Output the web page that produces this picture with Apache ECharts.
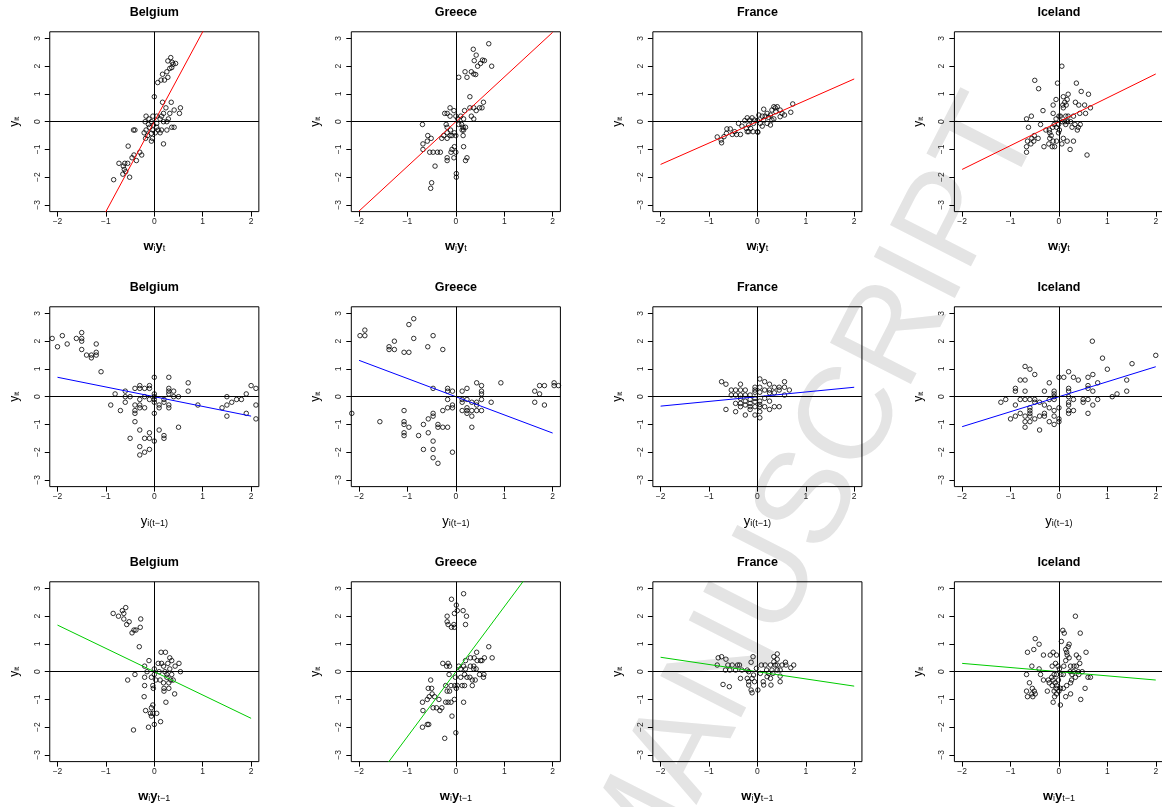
<!DOCTYPE html>
<html>
<head>
<meta charset="utf-8">
<script src="https://cdn.jsdelivr.net/npm/echarts@6/dist/echarts.min.js"></script>
<style>
  html, body { margin: 0; padding: 0; background: #fff; }
  #chart { width: 1162px; height: 807px; }
</style>
</head>
<body>
<div id="chart"></div>
<script>
// ---- Data -------------------------------------------------------------
const countries = ['Belgium', 'Greece', 'France', 'Iceland'];
const tickValuesX = [-2, -1, 0, 1, 2];
const tickValuesY = [-3, -2, -1, 0, 1, 2, 3];

// Row 1: spatial lag of current growth (w_i y_t) against y_it
const beWy = [[0.34,2.31],[0.28,2.19],[0.37,2.14],[0.44,2.1],[0.39,2.07],[0.32,1.92],[0.36,1.95],[0.26,1.8],[0.17,1.71],[0.28,1.6],[0.14,1.5],[0.21,1.5],[0.07,1.41],[0.0,0.9],
  [0.17,0.7],[0.35,0.7],[0.24,0.5],[0.54,0.5],[0.41,0.42],[0.52,0.3],[0.32,0.3],[0.19,0.3],[0.15,0.2],[0.05,0.2],[-0.03,0.2],[-0.17,0.2],[0.29,0.1],[0.12,0.1],[-0.11,0.1],[-0.19,0],[-0.06,0],[0.19,0],[0.26,0],[0.05,-0.06],[-0.12,-0.1],[-0.02,-0.12],[0.36,-0.2],[0.41,-0.2],[-0.1,-0.2],[-0.17,-0.3],[-0.03,-0.3],[0.08,-0.3],[0.15,-0.3],[0.26,-0.3],[-0.43,-0.3],[-0.4,-0.3],[-0.21,-0.4],[0.02,-0.4],[0.12,-0.4],[-0.14,-0.5],[-0.04,-0.6],[-0.18,-0.6],[-0.06,-0.7],[0.19,-0.8],[0.05,-0.2],[-0.06,-0.42],
  [-0.54,-0.88],[-0.42,-1.2],[-0.26,-1.2],[-0.3,-1.1],[-0.46,-1.3],[-0.37,-1.4],[-0.73,-1.5],[-0.61,-1.5],[-0.55,-1.5],[-0.64,-1.6],[-0.62,-1.72],[-0.65,-1.89],[-0.51,-2.0],[-0.84,-2.09],[-0.59,-1.8]];
const grWy = [[0.68,2.81],[0.36,2.61],[0.42,2.4],[0.38,2.2],[0.55,2.22],[0.59,2.2],[0.51,2.1],[0.45,2.0],[0.74,2.0],[0.19,1.8],[0.32,1.8],[0.37,1.72],[0.41,1.7],[0.23,1.6],[0.06,1.6],[0.29,0.9],[0.57,0.7],[0.37,0.5],[0.49,0.5],[0.54,0.5],[0.29,0.5],[0.42,0.4],[0.18,0.4],[0.32,0.2],[0.37,0.1],
  [-0.12,0.5],[-0.04,0.4],[-0.23,0.3],[-0.18,0.3],[-0.12,0.2],[0,0.2],[0.04,0.1],[0.1,0.2],[0.16,0.1],[-0.69,-0.1],[-0.2,-0.1],[-0.18,-0.2],[0.12,-0.1],[0.15,-0.2],[0.2,-0.2],[0.16,-0.3],[0.13,-0.3],[0.06,-0.1],[-0.11,-0.3],[-0.18,-0.4],[-0.03,-0.4],
  [-0.58,-0.5],[-0.25,-0.5],[-0.12,-0.5],[-0.08,-0.5],[0,-0.5],[0.15,-0.5],[-0.18,-0.6],[-0.51,-0.6],[-0.59,-0.7],[-0.29,-0.6],[-0.68,-0.8],[0.16,-0.9],[-0.03,-0.9],[-0.68,-1.0],[-0.08,-1.0],[-0.54,-1.1],[-0.47,-1.1],[-0.38,-1.1],[-0.32,-1.1],[-0.1,-1.1],[0,-1.1],[-0.18,-1.3],[-0.04,-1.3],[0.23,-1.3],[-0.18,-1.4],[0.2,-1.4],[-0.43,-1.6],[0.01,-1.87],[0.01,-2.0],[-0.5,-2.2],[-0.52,-2.4]];
const frWy = [[0.73,0.64],[0.69,0.34],[0.34,0.54],[0.41,0.54],[0.37,0.5],[0.13,0.45],[0.3,0.42],[0.47,0.42],[0.38,0.36],[0.51,0.3],[0.56,0.24],[0.2,0.3],[0.27,0.24],[0.16,0.2],[0.03,0.24],[0.1,0.2],[0.23,0.16],[-0.21,0.14],[-0.11,0.14],[-0.06,0.06],[-0.16,0.06],[-0.26,0.04],[0,0.04],[0.13,0.06],[0.34,0.1],[0.47,0.18],
  [0.06,-0.06],[0.2,-0.06],[0.27,-0.12],[0.1,-0.16],[0.3,0.06],[-0.08,-0.06],[-0.18,-0.12],[-0.32,-0.16],[-0.23,-0.24],[-0.14,-0.24],[-0.21,-0.36],[-0.09,-0.36],[0,-0.36],[0.01,-0.38],[-0.39,-0.06],[-0.35,-0.46],[-0.43,-0.46],[-0.52,-0.46],[-0.63,-0.26],[-0.56,-0.26],[-0.64,-0.42],[-0.69,-0.54],[-0.83,-0.55],[-0.75,-0.66],[-0.74,-0.76],[-0.47,-0.36],[-0.18,-0.36]];
const icWy = [[0.06,2.0],[-0.5,1.49],[-0.03,1.39],[0.36,1.39],[-0.42,1.19],[0.46,1.09],[0.09,0.9],[0.19,0.99],[0.61,0.99],[-0.06,0.8],[0.17,0.8],[0.34,0.7],[0.12,0.7],[0.08,0.6],[0.41,0.6],[0.53,0.6],[-0.12,0.6],[0.15,0.6],[0.65,0.5],[0.09,0.5],[-0.33,0.4],[0.43,0.3],[0.55,0.3],[-0.12,0.3],[-0.57,0.2],[0,0.2],[0.03,0.2],[0.14,0.2],[0.19,0.2],[0.3,0.2],[-0.67,0.1],[-0.06,0.1],[0.07,0],[0.12,0],[0.18,0],[0.24,0],
  [-0.38,-0.1],[-0.1,-0.1],[-0.01,-0.1],[0.14,-0.1],[0.33,-0.1],[0.44,-0.1],[-0.63,-0.2],[-0.13,-0.2],[-0.05,-0.2],[0.4,-0.2],[0.27,-0.2],[-0.27,-0.3],[-0.2,-0.3],[0.01,-0.3],[0.38,-0.3],[-0.19,-0.4],[-0.01,-0.4],[-0.51,-0.5],[-0.16,-0.5],[-0.56,-0.6],[-0.43,-0.6],[-0.19,-0.6],[0.09,-0.6],[-0.65,-0.7],[-0.52,-0.7],[-0.12,-0.7],[-0.05,-0.7],[0.17,-0.7],[0.3,-0.7],[-0.58,-0.8],[-0.21,-0.8],[0.06,-0.8],[-0.67,-0.9],[-0.31,-0.9],[-0.14,-0.9],[-0.09,-0.9],[0.23,-1.0],[-0.67,-1.1],[0.58,-1.2]];

// Row 2: own lagged growth y_i(t-1) against y_it
const beLag = [[-2.11,2.1],[-2.0,1.8],[-1.9,2.2],[-1.8,1.9],[-1.61,2.1],[-1.5,2.31],[-1.5,2.1],[-1.5,2.0],[-1.5,1.7],[-1.4,1.5],[-1.3,1.5],[-1.3,1.4],[-1.2,1.9],[-1.2,1.6],[-1.2,1.5],[-1.1,0.9],
  [-0.81,0.1],[-0.9,-0.3],[-0.7,-0.5],[-0.6,0.2],[-0.6,0],[-0.6,-0.2],[-0.5,0],[-0.5,-1.5],[-0.4,0.3],[-0.4,-0.3],[-0.4,-0.5],[-0.4,-0.6],[-0.4,-0.9],[-0.3,0.4],[-0.3,0.3],[-0.3,-0.1],[-0.3,-0.3],[-0.3,-0.4],[-0.3,-1.2],[-0.3,-1.8],[-0.3,-2.1],[-0.2,0.3],[-0.2,0],[-0.2,-0.4],[-0.2,-1.5],[-0.2,-2.0],[-0.1,0.4],[-0.1,0.3],[-0.1,-0.1],[-0.1,-1.3],[-0.1,-1.5],[-0.1,-1.9],
  [0,0.7],[0,0.1],[0,0],[0,-0.1],[0,-0.2],[0,-0.6],[0,-1.6],[0.1,-0.3],[0.1,-0.4],[0.1,-1.2],[0.2,-0.1],[0.2,-0.2],[0.2,-1.4],[0.2,-1.5],[0.3,0.7],[0.3,0.3],[0.3,0.2],[0.3,0.1],[0.3,-0.3],[0.3,-0.4],[0.4,0.2],[0.4,0],[0.5,0],[0.5,-1.1],[0.7,0.5],[0.7,0.2],[0.9,-0.3],
  [1.4,-0.4],[1.5,0],[1.5,-0.3],[1.5,-0.7],[1.6,-0.2],[1.7,-0.1],[1.8,-0.1],[1.9,0.1],[1.9,-0.6],[2.0,0.4],[2.1,0.3],[2.1,-0.3],[2.1,-0.8]];
const grLag = [[-1.98,2.2],[-1.88,2.4],[-1.88,2.2],[-0.87,2.81],[-0.97,2.6],[-0.87,2.1],[-0.47,2.2],[-1.38,1.8],[-1.38,1.7],[-1.27,2.0],[-1.27,1.7],[-1.07,1.6],[-0.97,1.6],[-0.58,1.8],[-0.27,1.7],
  [-0.47,0.3],[-0.17,0.3],[-0.17,0.2],[-0.07,0.2],[-0.07,-0.3],[-0.17,-0.1],[-0.17,-0.4],[-0.07,-0.4],[-0.27,-0.5],[-0.47,-0.6],[-0.47,-0.7],[-0.57,-0.8],[-0.67,-1.0],[-0.37,-1.0],[-0.37,-1.1],[-0.27,-1.1],[-0.17,-1.1],[-0.57,-1.3],[-0.77,-1.4],[-0.47,-1.6],[-0.67,-1.9],[-0.47,-1.9],[-0.47,-2.2],[-0.37,-2.4],[-0.07,-2.0],
  [-1.57,-0.9],[-1.07,-0.5],[-1.07,-0.9],[-1.07,-1.0],[-0.97,-1.1],[-1.07,-1.3],[-1.07,-1.4],[-2.15,-0.6],
  [0.13,0.2],[0.23,0.3],[0.13,-0.1],[0.13,-0.2],[0.13,-0.5],[0.23,-0.1],[0.23,-0.4],[0.23,-0.5],[0.23,-0.6],[0.33,-0.2],[0.33,-0.5],[0.33,-0.7],[0.33,-1.1],[0.43,0.5],[0.43,-0.2],[0.43,-0.3],[0.43,-0.5],[0.53,0.4],[0.53,0.2],[0.53,0.1],[0.53,-0.1],[0.53,-0.5],[0.73,-0.2],[0.93,0.5],
  [1.63,0.2],[1.63,-0.2],[1.73,0.4],[1.73,0.1],[1.83,0.4],[1.83,-0.3],[2.03,0.5],[2.03,0.4],[2.12,0.4]];
const frLag = [[-0.74,0.54],[-0.65,0.45],[-0.65,-0.46],[-0.45,-0.54],[-0.25,-0.66],[-0.54,0.24],[-0.45,0.24],[-0.35,0.45],[-0.35,0.24],[-0.25,0.24],[-0.54,0.06],[-0.45,0.06],[-0.35,0.06],[-0.25,0.06],[-0.15,0.06],[-0.35,-0.06],[-0.25,-0.16],[-0.45,-0.24],[-0.35,-0.24],[-0.35,-0.36],[-0.15,-0.24],[-0.15,-0.36],[-0.15,-0.46],
  [-0.05,0.34],[-0.05,0.24],[-0.05,0.16],[-0.05,-0.06],[-0.05,-0.18],[-0.05,-0.36],[-0.05,-0.66],[0.05,0.64],[0.05,0.34],[0.05,0.16],[0.05,-0.16],[0.05,-0.28],[0.05,-0.36],[0.05,-0.54],[0.05,-0.76],[0.15,0.54],[0.15,0.24],[0.15,-0.06],[0.15,-0.36],
  [0.25,0.45],[0.25,0.24],[0.25,0.14],[0.25,-0.16],[0.25,-0.46],[0.35,0.34],[0.35,0.14],[0.35,-0.36],[0.45,0.34],[0.45,0.24],[0.45,-0.36],[0.56,0.54],[0.56,0.34],[0.56,0.06],[0.66,0.24],[-0.15,-0.1],[-0.25,-0.3]];
const icLag = [[0.69,2.0],[2.0,1.49],[0.9,1.39],[1.51,1.19],[-0.7,1.09],[-0.6,0.99],[1.0,0.99],[-0.5,0.8],[0.2,0.9],[0.7,0.8],[-0.8,0.6],[-0.7,0.6],[-0.2,0.5],[0,0.7],[0.1,0.7],[0.3,0.7],[0.4,0.6],[0.6,0.7],[0.8,0.5],[1.4,0.6],
  [-0.9,0.3],[-0.9,0.2],[-0.7,0.2],[-0.3,0.2],[-0.1,0.2],[-0.1,0.1],[0.2,0.3],[0.2,0.2],[0.6,0.4],[0.6,0.3],[0.7,0.2],[1.2,0.1],[1.4,0.2],[1.1,0],
  [-1.2,-0.2],[-1.1,-0.1],[-0.8,-0.1],[-0.7,-0.1],[-0.6,-0.1],[-0.5,-0.1],[-0.5,-0.2],[-0.4,-0.2],[-0.2,-0.1],[-0.1,0],[-0.1,-0.1],[0.2,0],[0.2,-0.2],[0.2,-0.3],[0.3,-0.1],[0.5,-0.1],[0.5,-0.2],[0.6,-0.1],[0.8,-0.1],[0.7,-0.3],
  [-0.9,-0.3],[-0.6,-0.4],[-0.6,-0.5],[-0.3,-0.3],[-0.2,-0.4],[0,-0.4],[-0.1,-0.5],[0.2,-0.5],[0.3,-0.5],[-0.6,-0.6],[-0.8,-0.6],[-0.3,-0.6],[0.2,-0.6],[0.6,-0.6],[-0.9,-0.7],[-0.7,-0.7],[-0.6,-0.7],[-0.4,-0.7],[-0.3,-0.7],[-0.1,-0.7],
  [-1.0,-0.8],[-0.5,-0.8],[0,-0.8],[-0.7,-0.9],[-0.6,-0.9],[-0.2,-0.9],[0,-0.9],[-0.1,-1.0],[-0.7,-1.1],[-0.4,-1.2]];

// Row 3: spatial lag of past growth (w_i y_t-1) against y_it
const beWyLag = [[-0.85,2.1],[-0.74,2.0],[-0.66,2.2],[-0.63,2.1],[-0.59,2.31],[-0.63,1.9],[-0.57,1.7],[-0.52,1.8],[-0.46,1.4],[-0.42,1.5],[-0.38,1.5],[-0.28,1.9],[-0.29,1.6],[-0.31,0.9],[-0.55,-0.3],[-0.4,-0.1],[-0.43,-2.1],
  [-0.11,0.4],[-0.2,0.2],[-0.15,0],[-0.2,-0.2],[-0.2,-0.5],[-0.21,-0.9],[-0.18,-1.4],[-0.12,-2.0],[-0.06,-0.2],[-0.03,-0.5],[-0.02,-0.6],[-0.03,-1.2],[-0.06,-1.3],[-0.08,-1.5],[-0.03,-1.5],[-0.06,-1.6],[0.05,-1.5],[0,-1.9],[0.13,-1.8],
  [0,0.1],[0,-0.1],[0.03,-0.3],[0.08,0.3],[0.14,0.7],[0.23,0.7],[0.15,0.3],[0.19,0.2],[0.1,0],[0.12,-0.3],[0.19,-0.4],[0.22,0],[0.26,-0.1],[0.2,-0.6],[0.2,-0.7],[0.24,-1.1],[0.28,0.3],[0.32,0.5],[0.36,0.4],[0.32,0.1],[0.34,-0.3],[0.3,-0.4],[0.3,-0.6],[0.39,-0.3],[0.43,0.2],[0.51,0.3],[0.54,0],[0.42,-0.8],[0.26,-0.2],[0.36,-0.1]];
const grWyLag = [[0.16,2.81],[-0.09,2.61],[0.01,2.4],[0.03,2.2],[0.15,2.2],[-0.03,2.1],[-0.18,2.0],[0.22,2.0],[-0.18,1.8],[-0.16,1.7],[0.2,1.7],[-0.09,1.6],[-0.04,1.7],[-0.03,1.6],
  [0.68,0.9],[0.43,0.7],[0.75,0.5],[0.59,0.5],[0.51,0.4],[0.54,0.4],[0.38,0.5],[0.3,0.5],[0.44,0.4],[0.2,0.4],[0.3,0.2],[0.37,0.2],[0.37,0.1],[0.42,0.1],[-0.27,0.3],[-0.16,0.3],[-0.13,0.2],[-0.19,0.2],[0.06,0.2],[0.16,0.2],[0.2,0.1],[0.1,0.1],
  [-0.14,-0.1],[-0.01,-0.2],[0.1,-0.2],[0.18,-0.1],[0.23,-0.2],[0.29,-0.2],[0.34,-0.3],[0.4,-0.3],[0.49,-0.1],[0.57,-0.2],[0.58,-0.1],[-0.21,-0.5],[-0.1,-0.5],[-0.02,-0.5],[0.03,-0.5],[0.13,-0.5],[0.18,-0.5],[0.34,-0.5],[0.01,-0.6],[-0.18,-0.7],[-0.13,-0.7],
  [-0.52,-0.3],[-0.57,-0.6],[-0.5,-0.6],[-0.49,-0.8],[-0.55,-0.9],[-0.44,-0.9],[-0.59,-1.0],[-0.35,-1.0],[-0.03,-1.0],[-0.69,-1.1],[-0.21,-1.1],[-0.16,-1.1],[-0.1,-1.1],[0.16,-1.1],[-0.47,-1.3],[-0.4,-1.3],[-0.29,-1.3],[-0.33,-1.4],[-0.68,-1.4],[-0.08,-1.6],[-0.59,-1.9],[-0.56,-1.9],[-0.69,-2.0],[0,-2.2],[-0.23,-2.4]];
const frWyLag = [[-0.81,0.5],[-0.74,0.54],[-0.65,0.45],[-0.83,0.24],[-0.61,0.24],[-0.52,0.24],[-0.41,0.24],[-0.37,0.24],[-0.66,0.06],[-0.57,0.06],[-0.45,0.06],[-0.32,0.06],[-0.21,0.06],[-0.18,0],[-0.09,0.54],[-0.13,0.34],[-0.02,0.12],
  [-0.71,-0.46],[-0.58,-0.54],[-0.35,-0.24],[-0.21,-0.24],[-0.18,-0.36],[-0.18,-0.48],[-0.13,-0.66],[-0.11,-0.76],[-0.06,-0.36],[0.01,-0.66],[-0.08,-0.12],[-0.11,-0.24],
  [0.06,-0.06],[0.08,0.24],[0.16,0.24],[0.12,-0.36],[0.13,-0.48],[0.2,-0.18],[0.23,-0.06],[0.27,0.24],[0.28,-0.48],[0.3,0.06],[0.34,0.54],[0.34,0.36],[0.37,0.24],[0.41,0.64],[0.41,0.45],[0.32,-0.06],[0.41,0.06],[0.47,0.06],[0.47,-0.16],[0.47,-0.36],[0.51,0.24],[0.58,0.34],[0.59,0.24],[0.69,0.14],[0.75,0.24],[0.27,-0.24],[0.19,0.06],[0.41,0.24]];
const icWyLag = [[0.34,2.0],[0.08,1.49],[0.11,1.39],[0.44,1.39],[-0.49,1.19],[0.05,1.09],[-0.41,0.99],[0.21,0.99],[0.19,0.9],[-0.52,0.8],[0.14,0.8],[-0.65,0.7],[-0.12,0.7],[0.16,0.7],[0.56,0.7],[-0.32,0.6],[-0.18,0.6],[-0.05,0.6],[0.17,0.6],[0.36,0.6],[0.21,0.5],[0.41,0.5],[0.14,0.4],[-0.07,0.3],[0.43,0.3],
  [-0.56,0.2],[-0.14,0.2],[-0.02,0.2],[0.24,0.2],[0.31,0.2],[0.36,0.2],[-0.41,0.1],[0.1,0.2],[0.01,0.1],[0.23,0],[0.3,0],[0.4,0],[0.48,0],
  [-0.67,-0.1],[-0.38,-0.1],[-0.1,-0.1],[-0.05,-0.1],[0.04,-0.1],[0.09,-0.1],[0.27,-0.1],[0.41,-0.1],[-0.32,-0.3],[-0.22,-0.3],[-0.15,-0.2],[-0.12,-0.3],[-0.01,-0.3],[0.26,-0.3],[0.34,-0.2],[0.6,-0.2],[0.65,-0.2],
  [-0.61,-0.4],[-0.08,-0.4],[-0.14,-0.5],[-0.05,-0.5],[0.16,-0.5],[0.24,-0.4],[-0.55,-0.6],[-0.06,-0.6],[0.03,-0.6],[0.54,-0.6],[-0.67,-0.7],[-0.51,-0.7],[-0.24,-0.7],[-0.1,-0.7],[0,-0.7],[0.09,-0.6],
  [-0.56,-0.8],[-0.49,-0.8],[-0.05,-0.8],[0.24,-0.8],[-0.65,-0.9],[-0.54,-0.9],[-0.09,-0.9],[0.14,-0.9],[0.45,-1.0],[-0.12,-1.1],[0.03,-1.2],[-0.2,-0.4]];

// Fitted slopes of the regression lines (through the origin), one per panel
const slopeWy    = [3.24, 1.61, 0.77, 0.86];
const slopeLag   = [-0.35, -0.655, 0.17, 0.54];
const slopeWyLag = [-0.84, 2.34, -0.26, -0.15];

// ---- Layout -----------------------------------------------------------
const FONT = '"Liberation Sans", Arial, Helvetica, sans-serif';
const X_HALF = 2.16, Y_HALF = 3.24;      // axis ranges (+/-)
const PX_X = 48.4, PX_Y = 27.75;          // pixels per unit
const colZero = c => 154.3 + 301.55 * c;  // pixel x of data x = 0
const rowZero = r => 121.7 + 275 * r;     // pixel y of data y = 0

const rows = [
  { data: [beWy, grWy, frWy, icWy], slopes: slopeWy, color: '#ff0000',
    xTitle: '{b|w}{s|i}{b|y}{s|t}' },
  { data: [beLag, grLag, frLag, icLag], slopes: slopeLag, color: '#0000ff',
    xTitle: '{n|y}{s|i(t\u22121)}' },
  { data: [beWyLag, grWyLag, frWyLag, icWyLag], slopes: slopeWyLag, color: '#00cc00',
    xTitle: '{b|w}{s|i}{b|y}{s|t\u22121}' }
];

const fmt = v => (v < 0 ? '\u2212' + Math.abs(v) : String(v));
const titleRich = {
  b: { fontFamily: FONT, fontSize: 13, fontWeight: 'bold', fill: '#000', lineHeight: 18, verticalAlign: 'bottom' },
  n: { fontFamily: FONT, fontSize: 13, fill: '#000', lineHeight: 18, verticalAlign: 'bottom' },
  s: { fontFamily: FONT, fontSize: 9, fill: '#000', lineHeight: 10, verticalAlign: 'bottom' }
};
const yTitleRich = {
  n: { fontFamily: FONT, fontSize: 12, fill: '#000', lineHeight: 16, verticalAlign: 'bottom' },
  s: { fontFamily: FONT, fontSize: 8, fill: '#000', lineHeight: 9, verticalAlign: 'bottom' }
};

const grids = [], xAxes = [], yAxes = [], series = [], graphics = [];

// Light diagonal watermark behind the panels
graphics.push({
  type: 'text', x: 812, y: 498, rotation: 63 * Math.PI / 180, z: -10, silent: true,
  style: { text: 'MANUSCRIPT', fontFamily: FONT, fontSize: 132, fill: '#e4e4e4',
           align: 'center', verticalAlign: 'middle' }
});

rows.forEach((row, r) => {
  countries.forEach((name, c) => {
    const i = grids.length;
    const x0 = colZero(c), y0 = rowZero(r);
    grids.push({
      left: x0 - X_HALF * PX_X, top: y0 - Y_HALF * PX_Y,
      width: 2 * X_HALF * PX_X, height: 2 * Y_HALF * PX_Y,
      show: true, borderColor: '#000', borderWidth: 1, backgroundColor: 'transparent',
      containLabel: false, outerBoundsMode: 'none'
    });
    xAxes.push({
      type: 'value', gridIndex: i, min: -X_HALF, max: X_HALF,
      axisLine: { show: false, onZero: false },
      axisTick: { show: true, inside: false, length: 5, customValues: tickValuesX,
                  lineStyle: { color: '#000', width: 1 } },
      axisLabel: { show: true, customValues: tickValuesX, formatter: fmt, margin: 6,
                   fontFamily: FONT, fontSize: 8.5, color: '#222' },
      splitLine: { show: false }
    });
    yAxes.push({
      type: 'value', gridIndex: i, min: -Y_HALF, max: Y_HALF,
      axisLine: { show: false, onZero: false },
      axisTick: { show: true, inside: false, length: 5, customValues: tickValuesY,
                  lineStyle: { color: '#000', width: 1 } },
      axisLabel: { show: true, customValues: tickValuesY, formatter: fmt, rotate: 90, margin: 8,
                   fontFamily: FONT, fontSize: 8.5, color: '#222' },
      splitLine: { show: false }
    });
    series.push({
      type: 'scatter', xAxisIndex: i, yAxisIndex: i, data: row.data[c],
      symbol: 'circle', symbolSize: 4.5, clip: true, silent: true,
      itemStyle: { color: 'rgba(0,0,0,0)', borderColor: '#000', borderWidth: 1 },
      markLine: {
        silent: true, symbol: 'none', label: { show: false }, animation: false,
        lineStyle: { color: '#000', width: 1, type: 'solid' },
        data: [{ xAxis: 0 }, { yAxis: 0 }]
      },
      z: 2
    });
    const s = row.slopes[c];
    series.push({
      type: 'line', xAxisIndex: i, yAxisIndex: i,
      data: [[-2, -2 * s], [2, 2 * s]],
      symbol: 'none', showSymbol: false, clip: true, silent: true,
      lineStyle: { color: row.color, width: 1 }, z: 4
    });
    // Panel title
    graphics.push({
      type: 'text', x: x0, y: y0 - 109.5,
      style: { text: name, fontFamily: FONT, fontSize: 12.5, fontWeight: 'bold', fill: '#000',
               align: 'center', verticalAlign: 'middle' }
    });
    // x-axis title
    graphics.push({
      type: 'text', x: x0, y: y0 + 122,
      style: { text: row.xTitle, rich: titleRich, align: 'center', verticalAlign: 'middle' }
    });
    // y-axis title
    graphics.push({
      type: 'text', x: x0 - 142, y: y0, rotation: Math.PI / 2,
      style: { text: '{n|y}{s|it}', rich: yTitleRich, align: 'center', verticalAlign: 'middle' }
    });
  });
});

const chart = echarts.init(document.getElementById('chart'), null, { renderer: 'canvas' });
chart.setOption({
  animation: false,
  backgroundColor: '#ffffff',
  grid: grids,
  xAxis: xAxes,
  yAxis: yAxes,
  series: series,
  graphic: { elements: graphics }
});
</script>
</body>
</html>
